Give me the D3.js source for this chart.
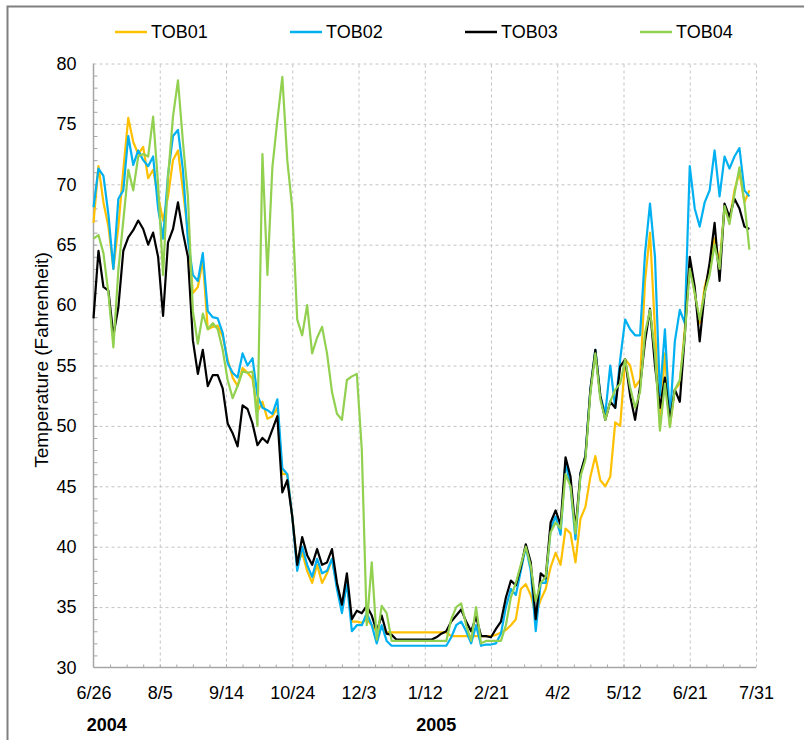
<!DOCTYPE html>
<html>
<head>
<meta charset="utf-8">
<script src="https://cdn.jsdelivr.net/npm/d3@7"></script>
<style>
  body { margin: 0; background: #fff; }
  svg { display: block; font-family: "Liberation Sans", Arial, sans-serif; }
</style>
</head>
<body>
<svg id="chart" width="804" height="740"></svg>
<script>
// daily readings sampled every 3 days starting 6/26/2004
const startDate = new Date(2004, 5, 26);
const endDate = new Date(2005, 6, 31);
const stepDays = 3;

const seriesNames = ['TOB01', 'TOB02', 'TOB03', 'TOB04'];
const seriesColors = ['#ffc000', '#00b0f0', '#000000', '#92d050'];

const tob01 = [
  66.8, 71.5, 68.5, 66.5, 63.0, 66.5, 71.2, 75.5, 73.5, 72.5,
  73.1, 70.5, 71.2, 69.0, 67.0, 69.0, 72.0, 72.8, 69.5, 66.0,
  61.0, 61.5, 63.7, 58.0, 58.2, 58.3, 57.4, 55.5, 54.0, 53.3,
  54.8, 54.4, 53.9, 51.2, 52.0, 50.6, 50.8, 51.5, 46.0, 46.0,
  42.5, 38.5, 39.5, 38.0, 37.0, 38.5, 37.0, 37.8, 39.0, 36.8,
  35.0, 37.0, 33.8, 33.8, 33.7, 34.0, 33.5, 33.0, 33.3, 32.9,
  32.9, 32.9, 32.9, 32.9, 32.9, 32.9, 32.9, 32.9, 32.9, 32.9,
  32.9, 32.9, 32.6, 32.6, 32.6, 32.6, 32.6, 32.6, 32.6, 32.6,
  32.6, 32.7, 32.9, 33.1, 33.5, 34.0, 36.5, 36.9, 36.0, 34.4,
  35.6, 36.5, 38.3, 39.5, 38.5, 41.5, 41.1, 38.7, 42.3, 43.3,
  45.8, 47.5, 45.5, 45.0, 45.8, 50.3, 50.0, 55.5, 55.0, 53.2,
  53.8, 62.0, 66.0, 58.0, 50.0, 56.0, 50.0, 53.0, 53.5, 58.0,
  63.5, 61.0, 58.5, 61.5, 63.0, 65.5, 63.5, 68.0, 67.0, 69.5,
  71.0, 68.5, 69.5
];

const tob02 = [
  68.1, 71.3, 70.7, 67.5, 63.0, 68.8, 69.5, 74.0, 71.6, 72.8,
  72.0, 71.5, 72.3, 68.0, 65.5, 70.8, 74.0, 74.5, 71.2, 65.4,
  62.5, 62.0, 64.3, 59.5, 59.0, 58.9, 57.7, 55.2, 54.4, 54.0,
  56.0, 55.0, 55.6, 52.5, 51.5, 51.3, 51.0, 52.2, 46.5, 46.0,
  42.5, 38.0, 40.0, 38.5, 37.5, 39.0, 37.8, 38.0, 39.0, 36.5,
  34.5, 37.0, 33.0, 33.5, 33.5, 34.5, 33.5, 32.0, 33.5, 32.2,
  31.8, 31.8, 31.8, 31.8, 31.8, 31.8, 31.8, 31.8, 31.8, 31.8,
  31.8, 31.8, 32.5, 33.5, 33.8, 33.0, 32.0, 33.5, 31.8, 31.9,
  31.9, 32.0, 32.8, 35.0, 36.5, 36.0, 38.0, 40.0, 38.0, 33.0,
  37.0, 37.0, 41.5, 42.5, 41.0, 47.0, 45.0, 40.6, 46.0, 47.5,
  53.0, 56.3, 52.5, 51.0, 55.0, 51.5, 55.5, 58.8, 58.0, 57.5,
  57.5, 64.3, 68.4, 64.0, 52.5, 58.0, 50.5, 57.0, 59.6, 58.5,
  71.5, 68.0, 66.5, 68.5, 69.5, 72.8, 69.0, 72.3, 71.3, 72.3,
  73.0, 69.5, 69.0
];

const tob03 = [
  58.9, 64.5, 61.5, 61.2, 57.5, 59.8, 64.5, 65.6, 66.2, 67.0,
  66.3, 65.0, 66.0, 64.0, 59.1, 65.2, 66.3, 68.5, 66.0, 64.0,
  57.1, 54.3, 56.3, 53.3, 54.2, 54.2, 53.1, 50.2, 49.4, 48.3,
  51.7, 51.4, 50.2, 48.4, 49.0, 48.6, 49.7, 50.8, 44.5, 45.5,
  42.5, 38.5, 40.8, 39.3, 38.5, 39.8, 38.5, 38.7, 39.8, 37.0,
  35.2, 37.8, 34.0, 34.7, 34.5, 35.1, 34.3, 33.0, 34.3, 32.8,
  32.7, 32.3, 32.3, 32.3, 32.3, 32.3, 32.3, 32.3, 32.3, 32.5,
  32.8, 33.0, 33.8, 34.3, 34.8, 33.8, 33.0, 34.2, 32.6, 32.6,
  32.5, 33.2, 33.8, 35.8, 37.2, 36.8, 38.3, 40.2, 38.7, 34.0,
  37.8, 37.4, 42.0, 43.0, 41.8, 47.4, 45.8, 41.4, 46.1, 47.5,
  53.0, 56.3, 52.5, 50.5, 52.0, 51.5, 54.9, 55.5, 52.5, 50.5,
  53.3, 57.0, 59.7, 55.0, 51.5, 54.0, 50.5, 53.0, 52.0, 57.5,
  64.0, 61.5, 57.0, 61.0, 63.5, 66.8, 62.0, 68.4, 67.3, 68.8,
  68.0, 66.5, 66.3
];

const tob04 = [
  65.5, 65.8, 64.3, 61.0, 56.5, 62.9, 67.0, 71.2, 69.5, 72.3,
  72.5, 72.3, 75.6, 70.0, 62.5, 70.6, 75.6, 78.6, 73.5, 69.0,
  59.5, 56.8, 59.3, 58.0, 58.5, 58.0, 56.3, 53.8, 52.3, 53.3,
  54.5, 54.4, 54.5, 50.0, 72.5, 62.5, 71.4, 75.3, 78.9, 72.0,
  68.0, 58.8, 57.5, 60.0, 56.0, 57.3, 58.2, 56.0, 52.8, 51.0,
  50.5, 53.8, 54.1, 54.3, 48.0, 33.5, 38.7, 32.3, 35.1, 34.5,
  32.2, 32.2, 32.2, 32.2, 32.2, 32.2, 32.2, 32.2, 32.2, 32.2,
  32.2, 32.2, 34.0, 35.0, 35.3, 33.5, 32.2, 35.0, 32.0, 32.2,
  32.2, 32.2, 32.2, 33.5, 35.8, 37.0, 38.5, 40.0, 38.4, 35.5,
  37.0, 37.5, 41.2, 42.0, 41.5, 46.0, 45.0, 41.1, 45.8, 47.2,
  52.7, 56.0, 52.2, 50.5, 52.0, 53.0, 53.5, 55.5, 53.2, 51.5,
  52.8, 57.7, 59.6, 56.0, 49.6, 53.5, 49.9, 53.0, 53.8, 57.5,
  63.0, 61.0, 58.8, 61.0, 62.5, 65.0, 63.0, 68.2, 66.7, 69.2,
  71.4, 68.5, 64.6
];

const seriesValues = [tob01, tob02, tob03, tob04];

// axis ticks: every 40 days, every 5 degrees
const xTickDays = [0, 40, 80, 120, 160, 200, 240, 280, 320, 360, 400];
const yTicks = [30, 35, 40, 45, 50, 55, 60, 65, 70, 75, 80];
const yearLabels = [
  { text: '2004', date: new Date(2004, 6, 4) },
  { text: '2005', date: new Date(2005, 0, 19) }
];

const dates = seriesValues[0].map((v, i) => d3.timeDay.offset(startDate, i * stepDays));
const xTicks = xTickDays.map(d => d3.timeDay.offset(startDate, d));

const plot = { left: 93.5, right: 756, top: 63.5, bottom: 667.5 };
const gridColor = '#c4c4c4';
const axisColor = '#a6a6a6';

const svg = d3.select('#chart');

svg.append('rect')
  .attr('width', 804).attr('height', 740)
  .attr('fill', '#fff');

// outer frame (cropped at right and bottom)
svg.append('rect')
  .attr('x', 7.5).attr('y', 6.5)
  .attr('width', 830).attr('height', 800)
  .attr('fill', 'none')
  .attr('stroke', '#808080')
  .attr('stroke-width', 2);

const x = d3.scaleTime()
  .domain([startDate, endDate])
  .range([plot.left, plot.right]);

const y = d3.scaleLinear()
  .domain([30, 80])
  .range([plot.bottom, plot.top]);

// gridlines
const xGrid = svg.append('g')
  .attr('transform', `translate(0,${plot.bottom})`)
  .call(d3.axisBottom(x).tickValues(xTicks.slice(1)).tickSize(-(plot.bottom - plot.top)).tickFormat(''));
xGrid.select('.domain').remove();
xGrid.selectAll('line')
  .attr('stroke', gridColor)
  .attr('stroke-dasharray', '3,3');

const yGrid = svg.append('g')
  .attr('transform', `translate(${plot.left},0)`)
  .call(d3.axisLeft(y).tickValues(yTicks.slice(1)).tickSize(-(plot.right - plot.left)).tickFormat(''));
yGrid.select('.domain').remove();
yGrid.selectAll('line')
  .attr('stroke', gridColor)
  .attr('stroke-dasharray', '3,3');

// minor ticks
const yMinor = svg.append('g')
  .attr('transform', `translate(${plot.left},0)`)
  .call(d3.axisLeft(y).tickValues(d3.range(31, 80)).tickSize(-4).tickFormat(''));
yMinor.select('.domain').remove();
yMinor.selectAll('line').attr('stroke', axisColor);

const xMinor = svg.append('g')
  .attr('transform', `translate(0,${plot.bottom})`)
  .call(d3.axisBottom(x).tickValues(d3.range(10, 400, 10).map(d => d3.timeDay.offset(startDate, d))).tickSize(-3).tickFormat(''));
xMinor.select('.domain').remove();
xMinor.selectAll('line').attr('stroke', axisColor);

// axis lines
svg.append('line')
  .attr('x1', plot.left).attr('x2', plot.left)
  .attr('y1', plot.top).attr('y2', plot.bottom)
  .attr('stroke', axisColor).attr('stroke-width', 1.5);
svg.append('line')
  .attr('x1', plot.left).attr('x2', plot.right)
  .attr('y1', plot.bottom).attr('y2', plot.bottom)
  .attr('stroke', axisColor).attr('stroke-width', 1.5);

// tick labels
const yAxis = svg.append('g')
  .attr('transform', `translate(${plot.left},0)`)
  .call(d3.axisLeft(y).tickValues(yTicks).tickSize(0).tickPadding(17));
yAxis.select('.domain').remove();
yAxis.selectAll('text')
  .attr('fill', '#000')
  .style('font-size', '18px')
  .style('font-family', '"Liberation Sans", Arial, sans-serif');

const xAxis = svg.append('g')
  .attr('transform', `translate(0,${plot.bottom})`)
  .call(d3.axisBottom(x).tickValues(xTicks).tickSize(0).tickPadding(19).tickFormat(d3.timeFormat('%-m/%-d')));
xAxis.select('.domain').remove();
xAxis.selectAll('text')
  .attr('fill', '#000')
  .style('font-size', '18px')
  .style('font-family', '"Liberation Sans", Arial, sans-serif');

// year labels
svg.selectAll('.year')
  .data(yearLabels)
  .enter()
  .append('text')
  .attr('class', 'year')
  .attr('x', d => x(d.date))
  .attr('y', 731)
  .attr('text-anchor', 'middle')
  .style('font-size', '18px')
  .style('font-weight', 'bold')
  .text(d => d.text);

// y title
svg.append('text')
  .attr('transform', 'translate(41,360) rotate(-90)')
  .attr('text-anchor', 'middle')
  .attr('dy', '0.35em')
  .style('font-size', '19px')
  .text('Temperature (Fahrenheit)');

// series lines
const line = d3.line()
  .x((d, i) => x(dates[i]))
  .y(d => y(d));

svg.selectAll('.series')
  .data(seriesValues)
  .enter()
  .append('path')
  .attr('class', 'series')
  .attr('d', d => line(d))
  .attr('fill', 'none')
  .attr('stroke', (d, i) => seriesColors[i])
  .attr('stroke-width', 2.2)
  .attr('stroke-linejoin', 'round');

// legend
const legend = svg.selectAll('.legend')
  .data(seriesNames)
  .enter()
  .append('g')
  .attr('class', 'legend')
  .attr('transform', (d, i) => `translate(${115 + i * 175},32)`);

legend.append('line')
  .attr('x1', 0).attr('x2', 32)
  .attr('stroke', (d, i) => seriesColors[i])
  .attr('stroke-width', 2.5);

legend.append('text')
  .attr('x', 36)
  .attr('dy', '0.35em')
  .style('font-size', '18px')
  .text(d => d);
</script>
</body>
</html>
